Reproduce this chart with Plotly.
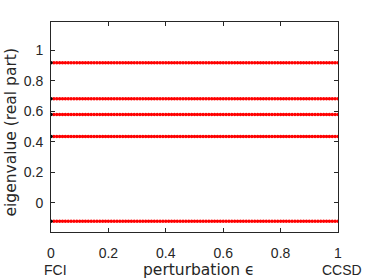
import plotly.graph_objects as go

eigenvalues = [0.919, 0.682, 0.579, 0.435, -0.120]
eps_values = [round(0.01 * i, 2) for i in range(1, 101)]
fci_x = [0.0]

fig = go.Figure()
for ev in eigenvalues:
    fig.add_trace(go.Scatter(x=eps_values, y=[ev] * len(eps_values), mode="markers",
                             marker=dict(color="#ff0000", size=3.5), showlegend=False, hoverinfo="skip"))
for ev in eigenvalues:
    fig.add_trace(go.Scatter(x=fci_x, y=[ev], mode="markers",
                             marker=dict(color="#000000", size=3.5), showlegend=False, hoverinfo="skip"))

font = dict(family="Liberation Sans, Arial, sans-serif", size=14, color="#262626")
label_font = dict(family="DejaVu Sans, sans-serif", size=15.5, color="#262626")
axis_common = dict(showline=True, linecolor="#262626", linewidth=1, mirror="ticks",
                   ticks="inside", ticklen=4, tickcolor="#262626", showgrid=False,
                   zeroline=False, tickfont=font, automargin=False)
fig.update_layout(
    width=374, height=280,
    margin=dict(l=51, r=36, t=22, b=48),
    paper_bgcolor="white", plot_bgcolor="white",
    font=font,
    xaxis=dict(range=[0, 1], tickvals=[0, 0.2, 0.4, 0.6, 0.8, 1],
               ticktext=["0", "0.2", "0.4", "0.6", "0.8", "1"], ticklabelstandoff=8, **axis_common),
    yaxis=dict(range=[-0.19, 1.185], tickvals=[0, 0.2, 0.4, 0.6, 0.8, 1],
               ticktext=["0", "0.2", "0.4", "0.6", "0.8", "1"], ticklabelstandoff=4, **axis_common),
)
fig.add_annotation(text="FCI", x=0.014, xref="paper", y=0, yref="paper", yshift=-38,
                   showarrow=False, font=font, xanchor="center", yanchor="middle")
fig.add_annotation(text="CCSD", x=1.014, xref="paper", y=0, yref="paper", yshift=-38,
                   showarrow=False, font=font, xanchor="center", yanchor="middle")
fig.add_annotation(text="perturbation \u03f5", x=0.514, xref="paper", y=0, yref="paper", yshift=-38,
                   showarrow=False, font=label_font, xanchor="center", yanchor="middle")
fig.add_annotation(text="eigenvalue (real part)", x=-0.1376, xref="paper", y=0.476, yref="paper",
                   textangle=-90, showarrow=False, font=label_font, xanchor="center", yanchor="middle")

fig.write_html("out.html", config={"displayModeBar": False},
               post_script="document.body.style.margin='0';")
